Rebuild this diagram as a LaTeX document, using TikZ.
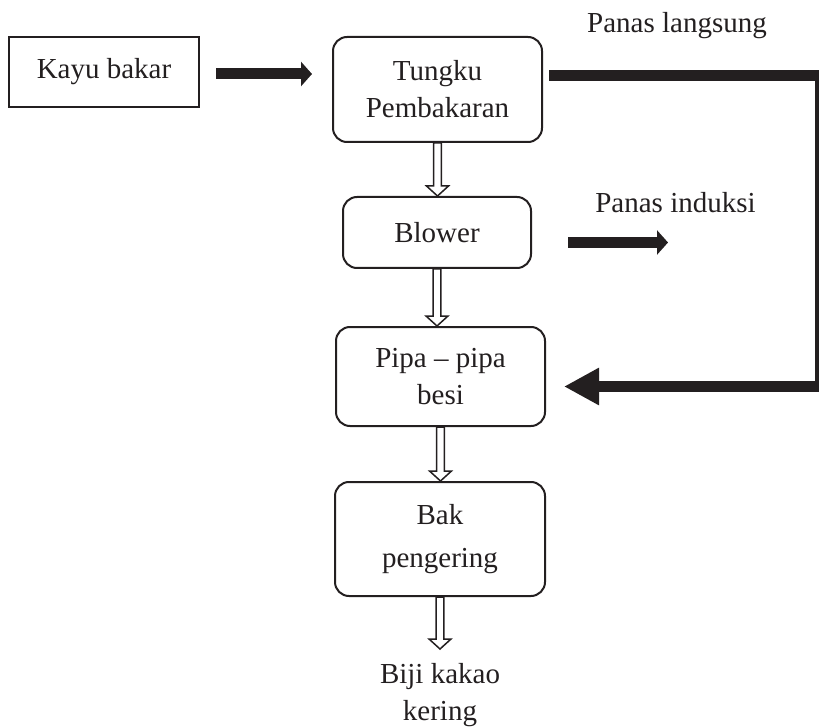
\documentclass[tikz,border=0pt]{standalone}
\usepackage{fontspec}
\setmainfont{Liberation Serif}
\usetikzlibrary{arrows.meta,calc}
\definecolor{ink}{HTML}{231F20}
\newcommand\hollowdown[2]{\draw[hollow] let \p1=(#1), \p2=(#2) in
  (\x1-3.8pt,\y1) -- (\x1-3.8pt,\y2+10pt) -- (\x1-11pt,\y2+10pt) -- (\x1,\y2) --
  (\x1+11pt,\y2+10pt) -- (\x1+3.8pt,\y2+10pt) -- (\x1+3.8pt,\y1) -- cycle;}
\begin{document}
\begin{tikzpicture}[x=1pt,y=-1pt,
  every node/.style={font=\fontsize{29}{37}\selectfont, text=ink, inner sep=0pt},
  flowbox/.style={draw=ink, line width=2pt, rounded corners=14pt, align=center},
  plainbox/.style={draw=ink, line width=2pt, align=center},
  hollow/.style={draw=ink, line width=1.5pt, fill=white, line join=miter},
  thickarr/.style={draw=ink, line width=11pt, -{Triangle[length=11pt,width=24pt]}},
  bigarr/.style={draw=ink, line width=11pt, -{Triangle[length=35pt,width=35pt]}},
  thickline/.style={draw=ink, line width=11pt},
  thinline/.style={draw=ink, line width=4pt},
  lbl/.style={anchor=base}]
\useasboundingbox (0,0) rectangle (819,727);

\node[plainbox, minimum width=190pt, minimum height=70pt] (kayu) at (104,72) {Kayu bakar};
\node[flowbox, minimum width=209pt, minimum height=105pt] (tungku) at (437.5,89.5) {Tungku\\Pembakaran};
\node[flowbox, minimum width=188pt, minimum height=71pt] (blower) at (437,232.5) {Blower};
\node[flowbox, minimum width=209pt, minimum height=99pt] (pipa) at (440.5,376.5) {Pipa -- pipa\\besi};
\node[flowbox, minimum width=210pt, minimum height=114pt] (bak) at (440,539) {Bak\\[6pt]pengering};
\node[align=center] (biji) at (440,695) {Biji kakao\\kering};

\node[lbl] (langsung) at (677,33) {Panas langsung};
\node[lbl] (induksi) at (675.5,213) {Panas induksi};

% input arrow
\draw[thickarr] ([xshift=16pt,yshift=-2pt]kayu.east) -- ([xshift=-20pt,yshift=-2pt]kayu.east -| tungku.west);

% hollow flow arrows
\hollowdown{tungku.south}{blower.north}
\hollowdown{blower.south}{blower.south |- pipa.north}
\hollowdown{pipa.south}{pipa.south |- bak.north}
\coordinate (bijitop) at ($(bak.south)+(0,52)$);
\hollowdown{bak.south}{bijitop}

% direct heat loop
\coordinate (c1) at (817,75.5);
\coordinate (c2) at (817,386.5);
\draw[thickline] ([xshift=6pt]tungku.east |- c1) -- ([xshift=2pt]c1);
\draw[thinline] ([yshift=5pt]c1) -- ([yshift=-5pt]c2);
\draw[bigarr] ([xshift=2pt]c2) -- ([xshift=18pt]pipa.east |- c2);

% induction heat arrow
\coordinate (ia) at (568,242.5);
\coordinate (ib) at (668,242.5);
\draw[thickarr] (ia) -- (ib);
\end{tikzpicture}
\end{document}
